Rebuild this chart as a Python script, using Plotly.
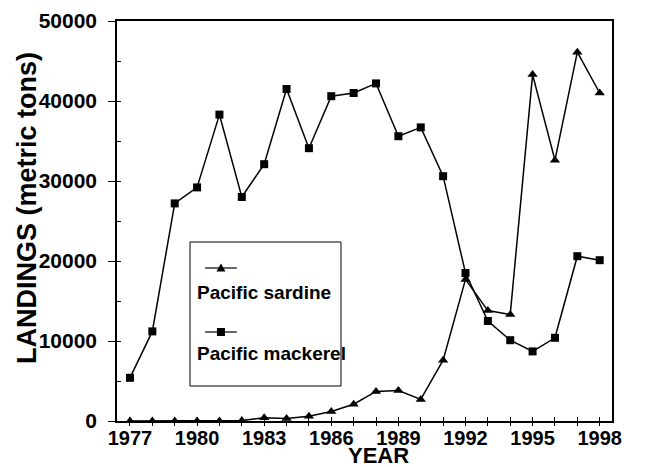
import plotly.graph_objects as go

years = list(range(1977, 1999))
sardine = [0, 0, 0, 0, 0, 50, 400, 300, 600, 1200, 2100, 3700, 3800, 2700,
           7600, 17700, 13800, 13300, 43300, 32600, 46100, 41000]
mackerel = [5400, 11200, 27200, 29200, 38300, 28000, 32100, 41500, 34100, 40600,
            41000, 42200, 35600, 36700, 30600, 18500, 12500, 10100, 8700, 10400,
            20600, 20100]
year_labels = [str(y) if (y - 1977) % 3 == 0 else "" for y in years]
y_ticks = [0, 10000, 20000, 30000, 40000, 50000]

FONT = "Liberation Sans, Arial, sans-serif"
XR = [1976.42, 1998.55]
YR = [0, 50000]

fig = go.Figure()
fig.add_trace(go.Scatter(x=years, y=sardine, mode="lines+markers", name="Pacific sardine",
                         line=dict(color="black", width=1.5),
                         marker=dict(symbol="triangle-up", size=9, color="black")))
fig.add_trace(go.Scatter(x=years, y=mackerel, mode="lines+markers", name="Pacific mackerel",
                         line=dict(color="black", width=1.5),
                         marker=dict(symbol="square", size=8, color="black")))
# invisible trace to create overlay axes for inward ticks
fig.add_trace(go.Scatter(x=[years[0]], y=[0], xaxis="x2", yaxis="y2", mode="markers",
                         marker=dict(opacity=0), hoverinfo="skip", showlegend=False))

fig.update_layout(
    width=654, height=467,
    margin=dict(l=109, r=50, t=13, b=54, autoexpand=False),
    paper_bgcolor="white", plot_bgcolor="white",
    showlegend=False,
    font=dict(family=FONT, color="black"),
    xaxis=dict(range=XR, tickvals=years,
               ticktext=[f"<b>{t}</b>" if t else "" for t in year_labels],
               ticks="outside", ticklen=3, tickwidth=1, tickcolor="black",
               showgrid=False, zeroline=False, automargin=False,
               showline=True, linecolor="black", linewidth=1.5, mirror=True,
               tickfont=dict(size=20, family=FONT, color="black"),
               ticklabelstandoff=-5),
    yaxis=dict(range=YR, tickvals=y_ticks, ticktext=[f"<b>{v}</b>" for v in y_ticks],
               ticks="outside", ticklen=7, tickwidth=1, tickcolor="black",
               showgrid=False, zeroline=False, showline=True, linecolor="black",
               linewidth=1.5, mirror=True, automargin=False,
               tickfont=dict(size=21, family=FONT, color="black"),
               ticklabelstandoff=7),
    xaxis2=dict(range=XR, overlaying="x", anchor="y", side="bottom", tickvals=years,
                ticks="inside", ticklen=4, tickcolor="black", showticklabels=False,
                showgrid=False, zeroline=False, showline=False, automargin=False),
    yaxis2=dict(range=YR, overlaying="y", anchor="x", side="left", dtick=5000, tick0=0,
                ticks="inside", ticklen=4, tickcolor="black", showticklabels=False,
                showgrid=False, zeroline=False, showline=False, automargin=False),
)

# axis titles
fig.add_annotation(x=0.529, y=-0.086, xref="paper", yref="paper", xanchor="center", yanchor="middle",
                   text="<b>YEAR</b>", showarrow=False, font=dict(size=22, family=FONT))
fig.add_annotation(x=-0.182, y=0.5325, xref="paper", yref="paper", xanchor="center", yanchor="middle",
                   text="<b>LANDINGS (metric tons)</b>", textangle=-90, showarrow=False,
                   font=dict(size=27, family=FONT))

# custom legend
shapes = [
    dict(type="rect", xref="paper", yref="paper", x0=0.1475, x1=0.4525, y0=0.0875, y1=0.4475,
         line=dict(color="black", width=1), fillcolor="white", layer="above"),
    dict(type="line", xref="paper", yref="paper", x0=0.178, x1=0.242, y0=0.3825, y1=0.3825,
         line=dict(color="black", width=1.2), layer="above"),
    dict(type="line", xref="paper", yref="paper", x0=0.178, x1=0.242, y0=0.2225, y1=0.2225,
         line=dict(color="black", width=1.2), layer="above"),
    dict(type="path", xref="paper", yref="paper", xsizemode="pixel", ysizemode="pixel",
         xanchor=0.210, yanchor=0.3825, path="M -4.5 -3.5 L 4.5 -3.5 L 0 4.5 Z",
         fillcolor="black", line=dict(color="black", width=0), layer="above"),
    dict(type="rect", xref="paper", yref="paper", xsizemode="pixel", ysizemode="pixel",
         xanchor=0.210, yanchor=0.2225, x0=-4, x1=4, y0=-4, y1=4,
         fillcolor="black", line=dict(color="black", width=0), layer="above"),
]
fig.update_layout(shapes=shapes)
fig.add_annotation(x=0.158, y=0.3225, xref="paper", yref="paper", xanchor="left", yanchor="middle",
                   text="<b>Pacific sardine</b>", showarrow=False, font=dict(size=19, family=FONT))
fig.add_annotation(x=0.158, y=0.17, xref="paper", yref="paper", xanchor="left", yanchor="middle",
                   text="<b>Pacific mackerel</b>", showarrow=False, font=dict(size=19, family=FONT))

fig.write_html("out.html")
